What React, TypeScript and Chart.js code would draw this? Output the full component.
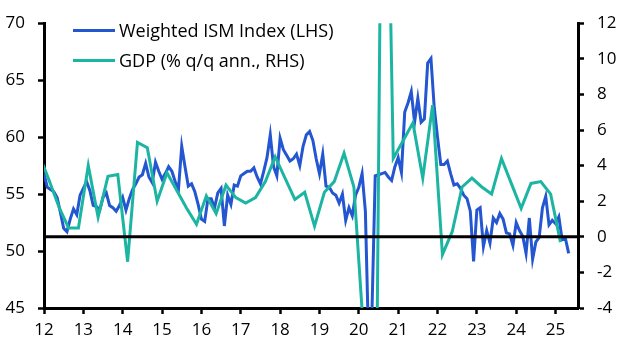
import React, { useEffect, useRef } from 'react';
import { Chart, registerables } from 'chart.js';

Chart.register(...registerables);

// Weighted ISM index, monthly, Jan 2012 - May 2025 (LHS)
const ISM_START_YEAR = 2012;
const ismValues: number[] = [
  // 2012
  56.8, 55.6, 55.4, 55.2, 54.7, 53.4, 52.0, 51.7, 52.8, 53.7, 53.2, 54.9,
  // 2013
  55.5, 56.1, 55.3, 54.0, 53.9, 53.6, 54.7, 55.1, 54.0, 53.8, 53.5, 54.0,
  // 2014
  54.7, 53.6, 54.6, 55.4, 55.9, 56.5, 56.7, 57.7, 56.5, 56.0, 57.8, 57.0,
  // 2015
  56.3, 56.8, 57.4, 57.0, 56.1, 55.4, 59.2, 57.4, 55.7, 55.9, 55.2, 54.1,
  // 2016
  52.8, 52.6, 54.6, 54.6, 53.8, 55.1, 55.5, 52.2, 54.9, 54.1, 55.8, 55.7,
  // 2017
  56.6, 56.8, 57.0, 57.0, 57.3, 56.5, 55.9, 57.0, 58.2, 60.2, 57.4, 56.6,
  // 2018
  59.9, 58.9, 58.4, 57.9, 58.1, 58.5, 57.5, 59.2, 60.2, 60.5, 59.7, 58.1,
  // 2019
  56.8, 58.5, 55.7, 55.6, 55.1, 54.9, 54.2, 55.0, 52.7, 53.8, 53.1, 54.9,
  // 2020
  55.6, 56.8, 53.5, 41.8, 44.5, 56.6, 56.7, 56.8, 56.9, 56.5, 56.2, 57.4,
  // 2021
  58.2, 56.9, 62.2, 63.0, 64.0, 61.3, 63.4, 61.3, 61.6, 66.5, 66.9, 62.6,
  // 2022
  60.0, 57.6, 57.6, 57.9, 56.8, 55.8, 55.9, 55.5, 54.9, 54.6, 53.5, 49.1,
  // 2023
  53.6, 53.8, 50.4, 51.8, 50.7, 52.9, 52.5, 53.3, 52.8, 51.6, 51.5, 50.5,
  // 2024
  52.5, 51.8, 51.3, 49.8, 52.9, 49.3, 50.8, 51.2, 53.8, 54.8, 52.3, 52.7,
  // 2025
  52.4, 53.0, 51.0, 51.1, 49.8,
];

// GDP, % q/q annualised, quarterly from 2011 Q4 to 2025 Q1 (RHS)
const GDP_START = 2011.75; // 2011 Q4
const gdpValues: number[] = [
  4.6,
  3.2, 1.7, 0.5, 0.5,
  4.0, 1.1, 3.4, 3.5,
  -1.4, 5.3, 5.0, 2.0,
  3.6, 2.6, 1.6, 0.7,
  2.3, 1.3, 2.9, 2.2,
  1.9, 2.2, 3.1, 4.5,
  3.3, 2.1, 2.5, 0.6,
  2.5, 3.1, 4.7, 2.8,
  -5.5, -28.0, 34.8, 4.4,
  5.4, 6.4, 3.3, 7.4,
  -1.0, 0.3, 2.8, 3.3,
  2.8, 2.4, 4.4, 3.0,
  1.6, 3.0, 3.1, 2.4,
  -0.3,
];

const yearTicks: number[] = [2012, 2013, 2014, 2015, 2016, 2017, 2018, 2019, 2020, 2021, 2022, 2023, 2024, 2025];
const yearLabels: string[] = ['12', '13', '14', '15', '16', '17', '18', '19', '20', '21', '22', '23', '24', '25'];
const X_MIN = 2012;
const X_MAX = 2025.57;
const leftTicks: number[] = [45, 50, 55, 60, 65, 70];
const rightTicks: number[] = [-4, -2, 0, 2, 4, 6, 8, 10, 12];

const legendLabels: string[] = ['Weighted ISM Index (LHS)', 'GDP (% q/q ann., RHS)'];

const BLUE = '#2356d0';
const TEAL = '#1bb5a2';
const FONT = "'Open Sans', 'DejaVu Sans', sans-serif";

const zeroLine = {
  id: 'zeroLine',
  afterDatasetsDraw(chart: any) {
    const { ctx, chartArea, scales } = chart;
    const y = scales.y1.getPixelForValue(0);
    ctx.save();
    ctx.strokeStyle = '#000';
    ctx.lineWidth = 3;
    ctx.beginPath();
    ctx.moveTo(chartArea.left, y);
    ctx.lineTo(chartArea.right, y);
    ctx.stroke();
    ctx.restore();
  },
};

export default function App() {
  const ref = useRef<HTMLCanvasElement | null>(null);

  useEffect(() => {
    document.body.style.margin = '0';
    if (!ref.current) return;
    const ismData = ismValues.map((v, i) => ({ x: ISM_START_YEAR + i / 12, y: v }));
    const gdpData = gdpValues.map((v, i) => ({ x: GDP_START + 0.125 + i * 0.25, y: v }));

    const tickFont = { family: FONT, size: 17 };

    const chart = new Chart(ref.current, {
      type: 'line',
      data: {
        datasets: [
          {
            label: legendLabels[0],
            data: ismData,
            yAxisID: 'y',
            borderColor: BLUE,
            backgroundColor: BLUE,
            borderWidth: 3,
            pointRadius: 0,
            tension: 0,
            order: 1,
          },
          {
            label: legendLabels[1],
            data: gdpData,
            yAxisID: 'y1',
            borderColor: TEAL,
            backgroundColor: TEAL,
            borderWidth: 3,
            pointRadius: 0,
            tension: 0,
            order: 0,
          },
        ],
      },
      options: {
        animation: false,
        responsive: false,
        parsing: false as any,
        normalized: true,
        layout: { padding: { top: 15, left: 0, right: 0, bottom: 0 } },
        plugins: {
          legend: { display: false },
          tooltip: { enabled: false },
        },
        scales: {
          x: {
            type: 'linear',
            min: X_MIN,
            max: X_MAX,
            afterBuildTicks: (scale: any) => {
              scale.ticks = yearTicks.map((v) => ({ value: v }));
            },
            afterFit: (scale: any) => {
              scale.height = 47;
            },
            ticks: {
              autoSkip: false,
              maxRotation: 0,
              padding: 6,
              color: '#000',
              font: tickFont,
              callback: (value: any) => {
                const idx = yearTicks.indexOf(Number(value));
                return idx >= 0 ? yearLabels[idx] : '';
              },
            },
            grid: {
              display: true,
              drawOnChartArea: false,
              drawTicks: true,
              tickLength: 6,
              tickWidth: 2.5,
              tickColor: '#000',
            },
            border: { display: true, color: '#000', width: 3 },
          },
          y: {
            type: 'linear',
            position: 'left',
            min: 45,
            max: 70,
            afterBuildTicks: (scale: any) => {
              scale.ticks = leftTicks.map((v) => ({ value: v }));
            },
            afterFit: (scale: any) => {
              scale.width = 44;
            },
            ticks: { padding: 13, color: '#000', font: tickFont },
            grid: {
              display: true,
              drawOnChartArea: false,
              drawTicks: true,
              tickLength: 6,
              tickWidth: 2.5,
              tickColor: '#000',
            },
            border: { display: true, color: '#000', width: 3 },
          },
          y1: {
            type: 'linear',
            position: 'right',
            min: -4,
            max: 12,
            afterBuildTicks: (scale: any) => {
              scale.ticks = rightTicks.map((v) => ({ value: v }));
            },
            afterFit: (scale: any) => {
              scale.width = 52;
            },
            ticks: { padding: 13, color: '#000', font: tickFont },
            grid: {
              display: true,
              drawOnChartArea: false,
              drawTicks: true,
              tickLength: 6,
              tickWidth: 2.5,
              tickColor: '#000',
            },
            border: { display: true, color: '#000', width: 3 },
          },
        },
      },
      plugins: [zeroLine],
    });

    return () => {
      chart.destroy();
    };
  }, []);

  const legendColors = [BLUE, TEAL];

  return (
    <div style={{ position: 'relative', width: 630, height: 355, background: '#fff' }}>
      <canvas ref={ref} width={630} height={355} style={{ display: 'block' }} />
      {legendLabels.map((label, i) => (
        <div
          key={label}
          style={{
            position: 'absolute',
            left: 73,
            top: 18 + i * 30,
            height: 24,
            display: 'flex',
            alignItems: 'center',
            fontFamily: FONT,
            fontSize: 18,
            color: '#000',
            whiteSpace: 'nowrap',
          }}
        >
          <div style={{ width: 42, height: 3, background: legendColors[i], marginRight: 4 }} />
          <span>{label}</span>
        </div>
      ))}
    </div>
  );
}
